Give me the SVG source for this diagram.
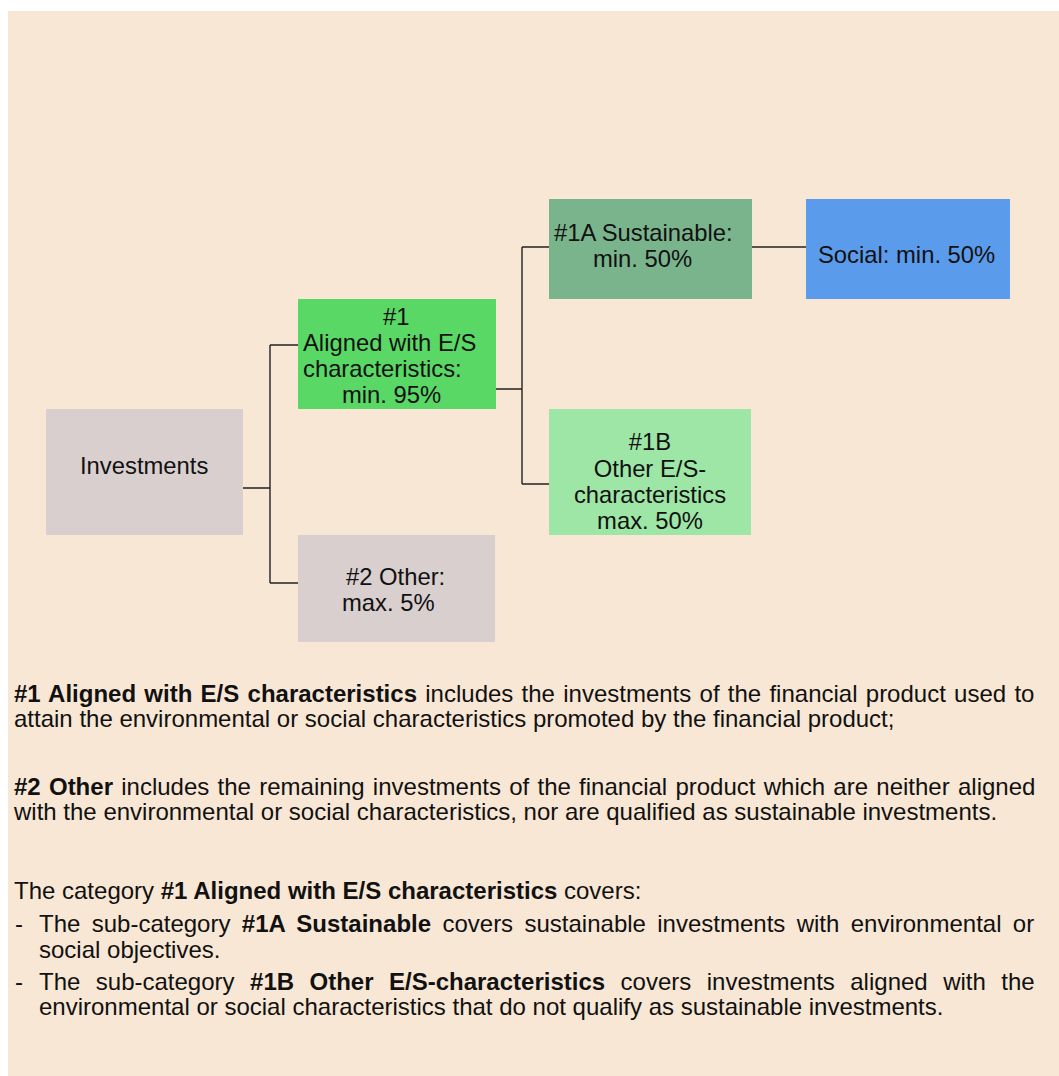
<svg xmlns="http://www.w3.org/2000/svg" width="1059" height="1076" viewBox="0 0 1059 1076">
<style>
  .n { font-family: "Liberation Sans", Arial, sans-serif; font-size: 23.8px; fill: #111; }
  .p { font-family: "Liberation Sans", Arial, sans-serif; font-size: 24px; fill: #111; }
  .bd { font-weight: bold; }
  .conn { fill: none; stroke: #222; stroke-width: 1.4; }
</style>
<rect x="0" y="0" width="1059" height="1076" fill="#ffffff"/>
<rect x="8" y="11" width="1051" height="1065" fill="#F9E7D5"/>

<g id="connectors">
  <path class="conn" d="M243,488 H270 M270,345 V583 M270,345 H298 M270,583 H298"/>
  <path class="conn" d="M496,389 H522 M522,247 V484 M522,247 H549 M522,484 H549"/>
  <path class="conn" d="M752,247 H806"/>
</g>

<g id="node-investments">
  <rect x="46" y="409" width="197" height="126" fill="#D9CFCE"/>
  <text class="n" x="80" y="474">Investments</text>
</g>

<g id="node-1">
  <rect x="298" y="299" width="198" height="110" fill="#5AD866"/>
  <text class="n" x="383" y="325">#1</text>
  <text class="n" x="303" y="351">Aligned with E/S</text>
  <text class="n" x="303" y="377">characteristics:</text>
  <text class="n" x="342" y="403">min. 95%</text>
</g>

<g id="node-2">
  <rect x="298" y="535" width="197" height="107" fill="#D9CFCE"/>
  <text class="n" x="346" y="585">#2 Other:</text>
  <text class="n" x="342" y="611">max. 5%</text>
</g>

<g id="node-1a">
  <rect x="549" y="199" width="203" height="100" fill="#7AB48C"/>
  <text class="n" x="554" y="241">#1A Sustainable:</text>
  <text class="n" x="593" y="267">min. 50%</text>
</g>

<g id="node-social">
  <rect x="806" y="199" width="204" height="100" fill="#5B9BEB"/>
  <text class="n" x="818" y="263">Social: min. 50%</text>
</g>

<g id="node-1b">
  <rect x="549" y="409" width="202" height="126" fill="#9EE6A6"/>
  <text class="n" x="650" y="450" text-anchor="middle">#1B</text>
  <text class="n" x="650" y="477" text-anchor="middle">Other E/S-</text>
  <text class="n" x="650" y="503" text-anchor="middle">characteristics</text>
  <text class="n" x="650" y="529" text-anchor="middle">max. 50%</text>
</g>

<g id="legend">
  <text class="p" x="14" y="702" word-spacing="1.6"><tspan class="bd">#1 Aligned with E/S characteristics</tspan> includes the investments of the financial product used to</text>
  <text class="p" x="14" y="727">attain the environmental or social characteristics promoted by the financial product;</text>
  <text class="p" x="14" y="795" word-spacing="1.6"><tspan class="bd">#2 Other</tspan> includes the remaining investments of the financial product which are neither aligned</text>
  <text class="p" x="14" y="820">with the environmental or social characteristics, nor are qualified as sustainable investments.</text>
  <text class="p" x="14" y="899">The category <tspan class="bd">#1 Aligned with E/S characteristics</tspan> covers:</text>
  <text class="p" x="15" y="932">-</text>
  <text class="p" x="39" y="932" word-spacing="4.7">The sub-category <tspan class="bd">#1A Sustainable</tspan> covers sustainable investments with environmental or</text>
  <text class="p" x="39" y="958">social objectives.</text>
  <text class="p" x="15" y="990">-</text>
  <text class="p" x="39" y="990" word-spacing="8.8">The sub-category <tspan class="bd">#1B Other E/S-characteristics</tspan> covers investments aligned with the</text>
  <text class="p" x="39" y="1015">environmental or social characteristics that do not qualify as sustainable investments.</text>
</g>
</svg>
